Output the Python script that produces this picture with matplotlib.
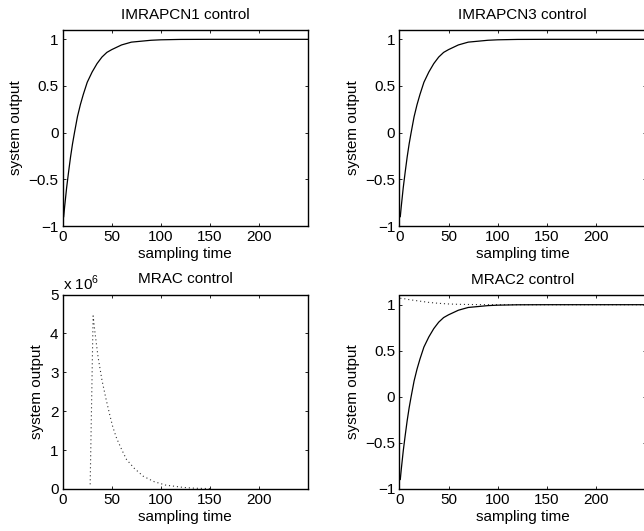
import matplotlib
matplotlib.use("Agg")
import matplotlib.pyplot as plt

plt.rcParams['font.family'] = ['Liberation Sans', 'DejaVu Sans']
plt.rcParams['font.size'] = 11
plt.rcParams['mathtext.fontset'] = 'custom'
plt.rcParams['mathtext.rm'] = 'Liberation Sans'
plt.rcParams['axes.unicode_minus'] = True

# step response (same shape in three panels)
t_resp = [1, 2, 3, 4, 6, 8, 10, 12, 15, 18, 21, 25, 30, 35, 40, 45, 50,
          60, 70, 80, 90, 100, 120, 150, 200, 250]
y_resp = [-0.9, -0.79, -0.69, -0.59, -0.42, -0.26, -0.12, 0.0, 0.17, 0.30,
          0.41, 0.54, 0.65, 0.74, 0.81, 0.86, 0.89, 0.94, 0.97, 0.98, 0.99,
          0.995, 0.999, 1.0, 1.0, 1.0]

# MRAC output, in units of 1e6
t_mrac = [28, 31, 33, 36, 40, 44, 48, 51, 55, 60, 65, 73, 82, 93,
          105, 117, 123, 135, 150]
y_mrac = [0.12, 4.45, 4.0, 3.4, 2.8, 2.33, 1.9, 1.6, 1.3, 1.02,
          0.76, 0.53, 0.33, 0.19, 0.10, 0.06, 0.04, 0.02, 0.01]

# MRAC2 reference (dotted)
t_ref2 = [1, 5, 10, 20, 30, 40, 50, 60, 80, 100, 250]
y_ref2 = [1.07, 1.065, 1.055, 1.04, 1.025, 1.015, 1.008, 1.004, 1.001, 1.0, 1.0]

titles = ['IMRAPCN1 control', 'IMRAPCN3 control', 'MRAC control', 'MRAC2 control']
xticks = [0, 50, 100, 150, 200]
yticks = [-1, -0.5, 0, 0.5, 1]
ytick_labels = ['\u22121', '\u22120.5', '0', '0.5', '1']
mrac_yticks = [0, 1, 2, 3, 4, 5]

W, H = 644, 531
fig = plt.figure(figsize=(W / 100, H / 100), dpi=100)

def box(l, t, r, b):
    return [l / W, 1 - b / H, (r - l) / W, (b - t) / H]

axes = [fig.add_axes(box(62.7, 30, 308, 226)),
        fig.add_axes(box(399.3, 30, 645.5, 226)),
        fig.add_axes(box(62.7, 294.5, 308, 489)),
        fig.add_axes(box(399.3, 295.5, 645.5, 488.7))]

dot = (0, (1, 2.6))

axes[0].plot(t_resp, y_resp, color='k', lw=0.9)
axes[1].plot(t_resp, y_resp, color='k', lw=0.9)
axes[2].plot(t_mrac, y_mrac, color='#333333', lw=0.8, linestyle=dot)
axes[3].plot(t_ref2, y_ref2, color='#333333', lw=0.8, linestyle=dot)
axes[3].plot(t_resp, y_resp, color='k', lw=0.9)

for i, ax in enumerate(axes):
    ax.set_xlim(0, 250)
    ax.set_xticks(xticks)
    ax.set_xticklabels([str(v) for v in xticks])
    if i == 2:
        ax.set_ylim(0, 5)
        ax.set_yticks(mrac_yticks)
        ax.set_yticklabels([str(v) for v in mrac_yticks])
        ax.annotate(r'x 10$^{6}$', xy=(0, 1), xycoords='axes fraction',
                    xytext=(0, 3), textcoords='offset points',
                    ha='left', va='baseline', fontsize=11)
    else:
        ax.set_ylim(-1, 1.1)
        ax.set_yticks(yticks)
        ax.set_yticklabels(ytick_labels)
    ax.tick_params(direction='in', length=2.5, width=0.6, top=True, right=True, pad=3)
    for s in ax.spines.values():
        s.set_linewidth(1.0)
    ax.set_title(titles[i], fontsize=11, pad=8)
    ax.set_xlabel('sampling time', labelpad=2)
    ax.set_ylabel('system output', labelpad=4)

fig.savefig('out.png', dpi=100)
